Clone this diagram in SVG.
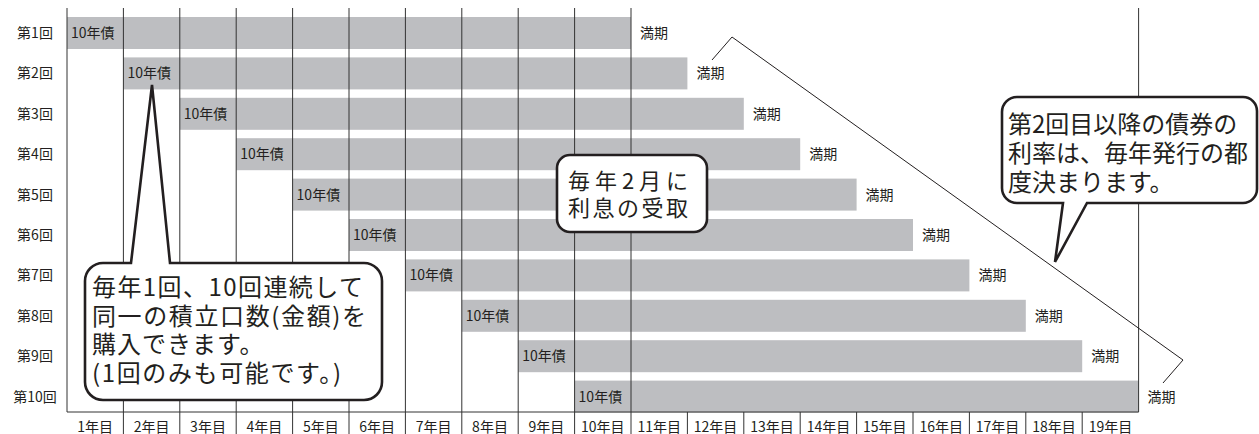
<svg xmlns="http://www.w3.org/2000/svg" width="1259" height="434" viewBox="0 0 1259 434">
<style>
text{font-family:"Noto Sans CJK JP","Noto Sans",sans-serif;fill:#231f20}
.bar{fill:#bdbec1}
.g{stroke:#333;stroke-width:1;fill:none}
.s{font-size:14px}
.rl{font-size:14px;text-anchor:middle}
.yl{font-size:14px;text-anchor:middle}
.co{fill:#fff;stroke:#231f20;stroke-width:2.6;stroke-linejoin:miter}
.ct{font-size:24px}
.br{fill:none;stroke:#231f20;stroke-width:1}
</style>
<rect width="1259" height="434" fill="#fff"/>
<g id="bars">
<rect class="bar" x="67" y="17" width="564" height="32"/>
<rect class="bar" x="123.4" y="57.4" width="564" height="32"/>
<rect class="bar" x="179.8" y="97.8" width="564" height="32"/>
<rect class="bar" x="236.2" y="138.2" width="564" height="32"/>
<rect class="bar" x="292.6" y="178.6" width="564" height="32"/>
<rect class="bar" x="349" y="219" width="564" height="32"/>
<rect class="bar" x="405.4" y="259.4" width="564" height="32"/>
<rect class="bar" x="461.8" y="299.8" width="564" height="32"/>
<rect class="bar" x="518.2" y="340.2" width="564" height="32"/>
<rect class="bar" x="574.6" y="380.6" width="564" height="32"/>
</g>
<g id="grid">
<path class="g" d="M67 8V412H1138.6V8M123.4 8V434M179.8 8V434M236.2 8V434M292.6 8V434M349 8V434M405.4 8V434M461.8 8V434M518.2 8V434M574.6 8V434M631 8V434M687.4 412V434M743.8 412V434M800.2 412V434M856.6 412V434M913 412V434M969.4 412V434M1025.8 412V434M1082.2 412V434"/>
</g>
<g id="row-labels">
<text class="rl" x="35" y="38">第1回</text>
<text class="rl" x="35" y="78.4">第2回</text>
<text class="rl" x="35" y="118.8">第3回</text>
<text class="rl" x="35" y="159.2">第4回</text>
<text class="rl" x="35" y="199.6">第5回</text>
<text class="rl" x="35" y="240">第6回</text>
<text class="rl" x="35" y="280.4">第7回</text>
<text class="rl" x="35" y="320.8">第8回</text>
<text class="rl" x="35" y="361.2">第9回</text>
<text class="rl" x="35" y="401.6">第10回</text>
</g>
<g id="bond-labels">
<text class="s" x="71" y="38">10年債</text>
<text class="s" x="127.4" y="78.4">10年債</text>
<text class="s" x="183.8" y="118.8">10年債</text>
<text class="s" x="240.2" y="159.2">10年債</text>
<text class="s" x="296.6" y="199.6">10年債</text>
<text class="s" x="353" y="240">10年債</text>
<text class="s" x="409.4" y="280.4">10年債</text>
<text class="s" x="465.8" y="320.8">10年債</text>
<text class="s" x="522.2" y="361.2">10年債</text>
<text class="s" x="578.6" y="401.6">10年債</text>
</g>
<g id="maturity-labels">
<text class="s" x="640" y="38">満期</text>
<text class="s" x="696.4" y="78.4">満期</text>
<text class="s" x="752.8" y="118.8">満期</text>
<text class="s" x="809.2" y="159.2">満期</text>
<text class="s" x="865.6" y="199.6">満期</text>
<text class="s" x="922" y="240">満期</text>
<text class="s" x="978.4" y="280.4">満期</text>
<text class="s" x="1034.8" y="320.8">満期</text>
<text class="s" x="1091.2" y="361.2">満期</text>
<text class="s" x="1147.6" y="401.6">満期</text>
</g>
<g id="year-labels">
<text class="yl" x="95.2" y="432">1年目</text>
<text class="yl" x="151.6" y="432">2年目</text>
<text class="yl" x="208" y="432">3年目</text>
<text class="yl" x="264.4" y="432">4年目</text>
<text class="yl" x="320.8" y="432">5年目</text>
<text class="yl" x="377.2" y="432">6年目</text>
<text class="yl" x="433.6" y="432">7年目</text>
<text class="yl" x="490" y="432">8年目</text>
<text class="yl" x="546.4" y="432">9年目</text>
<text class="yl" x="602.8" y="432">10年目</text>
<text class="yl" x="659.2" y="432">11年目</text>
<text class="yl" x="715.6" y="432">12年目</text>
<text class="yl" x="772" y="432">13年目</text>
<text class="yl" x="828.4" y="432">14年目</text>
<text class="yl" x="884.8" y="432">15年目</text>
<text class="yl" x="941.2" y="432">16年目</text>
<text class="yl" x="997.6" y="432">17年目</text>
<text class="yl" x="1054" y="432">18年目</text>
<text class="yl" x="1110.4" y="432">19年目</text>
</g>
<g id="connectors">
<polyline class="br" points="712,60 732,37 1183,360 1163,383"/>
</g>
<g id="callout-purchase">
<path class="co" d="M103 263H131L152 85L170 263H364A18 18 0 0 1 382 281V382A18 18 0 0 1 364 400H103A18 18 0 0 1 85 382V281A18 18 0 0 1 103 263Z"/>
<text class="ct" x="92" y="296" textLength="271" lengthAdjust="spacing">毎年1回、10回連続して</text>
<text class="ct" x="92" y="325" textLength="274" lengthAdjust="spacing">同一の積立口数(金額)を</text>
<text class="ct" x="92" y="353" letter-spacing="1">購入できます。</text>
<text class="ct" x="92" y="382" textLength="249" lengthAdjust="spacing">(1回のみも可能です。)</text>
</g>
<g id="callout-interest">
<rect class="co" x="557" y="155" width="150" height="77" rx="13"/>
<text x="568" y="189" font-size="22" textLength="120" lengthAdjust="spacing">毎年2月に</text>
<text x="568" y="216" font-size="22" textLength="120" lengthAdjust="spacing">利息の受取</text>
</g>
<g id="callout-rate">
<path class="co" d="M1017 97H1243A14 14 0 0 1 1257 111V189A14 14 0 0 1 1243 203H1087L1055 262L1063 203H1017A15 15 0 0 1 1002 188V112A15 15 0 0 1 1017 97Z"/>
<text class="ct" x="1008" y="133" font-size="25">第2回目以降の債券の</text>
<text class="ct" x="1008" y="162" font-size="25">利率は、毎年発行の都</text>
<text class="ct" x="1008" y="191" font-size="25">度決まります。</text>
</g>
</svg>
